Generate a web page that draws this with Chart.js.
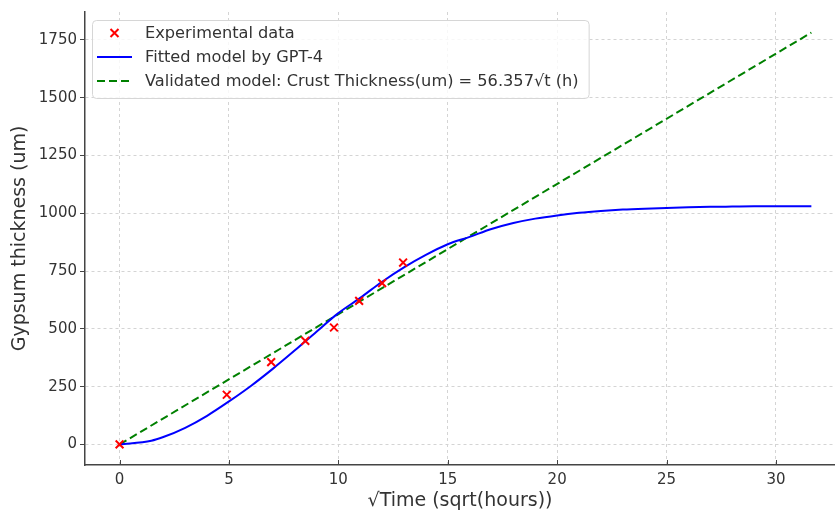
<!DOCTYPE html>
<html>
<head>
<meta charset="utf-8">
<script src="https://cdn.jsdelivr.net/npm/chart.js@4.4.1/dist/chart.umd.min.js"></script>
<style>
  html, body { margin: 0; padding: 0; background: #fff; }
  #wrap { width: 835px; height: 513px; }
</style>
</head>
<body>
<div id="wrap"><canvas id="chart"></canvas></div>
<script>
// measurements: sqrt(hours) and crust thickness (um)
const expX = [0, 4.90, 6.93, 8.49, 9.80, 10.95, 12.00, 12.96];
const expY = [0, 215, 356, 448, 506, 621, 698, 787];

// GPT-4 fitted curve
const fitX = [0, 1.45, 2, 3, 4, 5, 6, 7, 8, 9, 10, 11, 12, 13, 14, 15, 16, 17, 18, 19, 20,
              21, 22, 23, 24, 25, 26, 27, 28, 29, 30, 31.62];
const fitY = [0, 16, 32, 72, 124, 186, 253, 327, 406, 488, 568, 634, 704, 766, 820, 866, 898, 932, 958, 977, 991,
              1002, 1010, 1016, 1020, 1023, 1026, 1028, 1029, 1030, 1030, 1030];

// validated model, straight line end points
const valX = [0, 31.62];
const valY = [0, 1782];

const xTicks = [0, 5, 10, 15, 20, 25, 30];
const yTicks = [0, 250, 500, 750, 1000, 1250, 1500, 1750];

const FONT = "'DejaVu Sans', sans-serif";
const TXT = '#333';
const AXIS = '#444';

const toPts = (xs, ys) => xs.map((x, i) => ({ x: x, y: ys[i] }));

// x ticks point inwards in the original, draw them by hand
const innerTicks = {
  id: 'innerTicks',
  afterDatasetsDraw(chart) {
    const ctx = chart.ctx;
    const sx = chart.scales.x;
    const bottom = chart.chartArea.bottom;
    ctx.save();
    ctx.strokeStyle = AXIS;
    ctx.lineWidth = 1;
    xTicks.forEach(v => {
      const px = Math.round(sx.getPixelForValue(v)) + 0.5;
      ctx.beginPath();
      ctx.moveTo(px, bottom);
      ctx.lineTo(px, bottom - 5);
      ctx.stroke();
    });
    ctx.restore();
  }
};

// matplotlib-like legend box drawn inside the plot
const legendBox = {
  id: 'legendBox',
  afterDraw(chart) {
    const ctx = chart.ctx;
    const area = chart.chartArea;
    const sets = chart.data.datasets;
    const x0 = area.left + 7, y0 = area.top + 8;
    const rowH = 24;
    ctx.save();
    ctx.font = '16.2px ' + FONT;
    let maxW = 0;
    sets.forEach(ds => { maxW = Math.max(maxW, ctx.measureText(ds.label).width); });
    const w = 53 + maxW + 10, h = sets.length * rowH + 6;

    ctx.beginPath();
    ctx.roundRect(x0 + 0.5, y0 + 0.5, w, h, 4);
    ctx.fillStyle = 'rgba(255,255,255,0.8)';
    ctx.fill();
    ctx.strokeStyle = '#d6d6d6';
    ctx.lineWidth = 1;
    ctx.stroke();

    sets.forEach((ds, i) => {
      const cy = y0 + 13 + i * rowH;
      const sx = x0 + 5, ex = x0 + 40;
      if (ds.showLine === false) {
        const cx = (sx + ex) / 2, r = 4;
        ctx.strokeStyle = ds.borderColor;
        ctx.lineWidth = 2;
        ctx.setLineDash([]);
        ctx.beginPath();
        ctx.moveTo(cx - r, cy - r); ctx.lineTo(cx + r, cy + r);
        ctx.moveTo(cx + r, cy - r); ctx.lineTo(cx - r, cy + r);
        ctx.stroke();
      } else {
        ctx.strokeStyle = ds.borderColor;
        ctx.lineWidth = ds.borderWidth;
        ctx.setLineDash(ds.borderDash || []);
        ctx.beginPath();
        ctx.moveTo(sx, cy); ctx.lineTo(ex, cy);
        ctx.stroke();
      }
      ctx.setLineDash([]);
      ctx.fillStyle = TXT;
      ctx.textBaseline = 'middle';
      ctx.textAlign = 'left';
      ctx.fillText(ds.label, x0 + 53, cy + 1);
    });
    ctx.restore();
  }
};

const ctx = document.getElementById('chart').getContext('2d');
new Chart(ctx, {
  type: 'scatter',
  data: {
    datasets: [
      {
        label: 'Experimental data',
        data: toPts(expX, expY),
        showLine: false,
        pointStyle: 'crossRot',
        pointRadius: 5.5,
        pointBorderWidth: 2,
        borderColor: '#ff0000',
        backgroundColor: '#ff0000'
      },
      {
        label: 'Fitted model by GPT-4',
        data: toPts(fitX, fitY),
        showLine: true,
        cubicInterpolationMode: 'monotone',
        borderColor: '#0000ff',
        borderWidth: 2,
        pointRadius: 0
      },
      {
        label: 'Validated model: Crust Thickness(um) = 56.357√t (h)',
        data: toPts(valX, valY),
        showLine: true,
        borderColor: '#008000',
        borderWidth: 2,
        borderDash: [8, 4],
        pointRadius: 0
      }
    ]
  },
  options: {
    responsive: true,
    maintainAspectRatio: false,
    animation: false,
    layout: { autoPadding: false, padding: { top: 12, right: 0, left: 0, bottom: 0 } },
    plugins: { legend: { display: false }, tooltip: { enabled: false } },
    scales: {
      x: {
        type: 'linear',
        min: -1.58,
        max: 32.7,
        afterBuildTicks: axis => { axis.ticks = xTicks.map(v => ({ value: v })); },
        afterFit: axis => { axis.height = 48; axis.paddingLeft = 0; axis.paddingRight = 0; },
        grid: { color: '#d4d4d4', lineWidth: 1, drawTicks: false },
        border: { display: true, color: AXIS, width: 1.5, dash: [3, 3] },
        ticks: { color: TXT, font: { family: FONT, size: 15 }, padding: 6, maxRotation: 0 },
        title: { display: true, text: '√Time (sqrt(hours))', color: TXT, font: { family: FONT, size: 19 }, padding: { top: 1, bottom: 1 } }
      },
      y: {
        type: 'linear',
        min: -89,
        max: 1871,
        afterBuildTicks: axis => { axis.ticks = yTicks.map(v => ({ value: v })); },
        afterFit: axis => { axis.width = 85; },
        grid: { color: '#d4d4d4', lineWidth: 1, drawTicks: true, tickLength: 5, tickColor: AXIS, tickBorderDash: [] },
        border: { display: true, color: AXIS, width: 1.5, dash: [3, 3] },
        ticks: { color: TXT, font: { family: FONT, size: 15 }, padding: 3, callback: v => String(v) },
        title: { display: true, text: 'Gypsum thickness (um)', color: TXT, font: { family: FONT, size: 19 }, padding: { top: 9, bottom: 0 } }
      }
    }
  },
  plugins: [innerTicks, legendBox]
});
</script>
</body>
</html>
